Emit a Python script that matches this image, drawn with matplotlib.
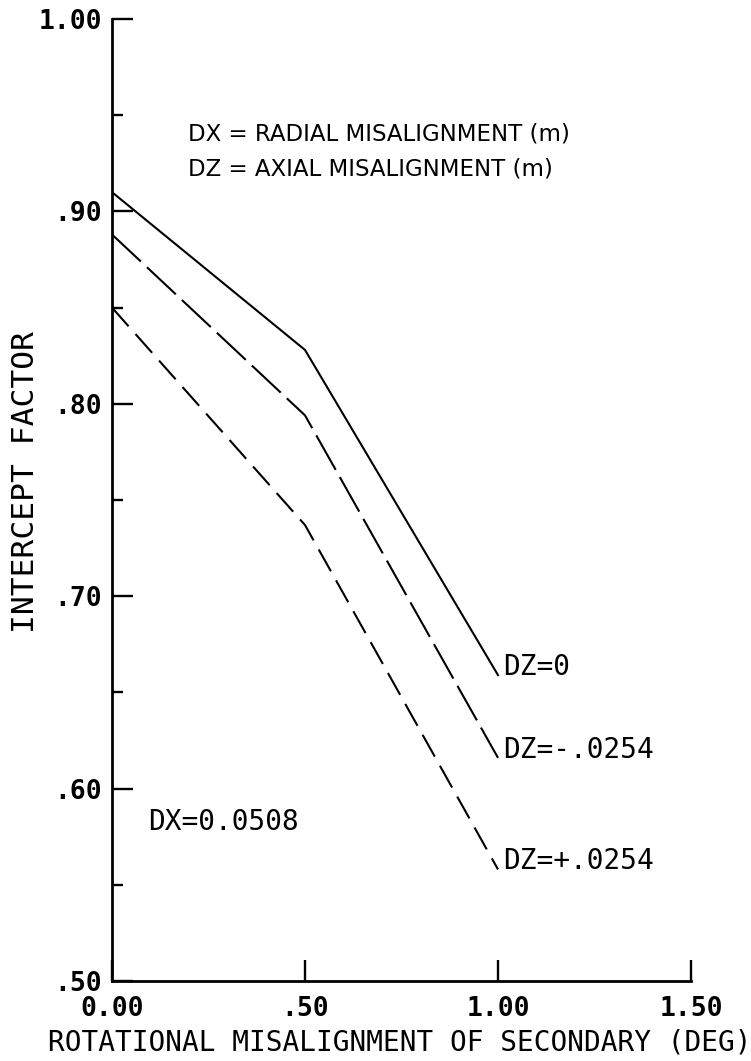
import matplotlib
matplotlib.use("Agg")
import matplotlib.pyplot as plt
from matplotlib.ticker import FixedLocator, FixedFormatter

# Rotational misalignment of the secondary (deg)
rotation_deg = [0.0, 0.5, 1.0]

# Intercept factor for each axial misalignment, DX = 0.0508 m
dz_zero = [0.910, 0.828, 0.659]
dz_minus = [0.888, 0.794, 0.616]
dz_plus = [0.850, 0.737, 0.558]

series_labels = ["DZ=0", "DZ=-.0254", "DZ=+.0254"]

x_ticks = [0.0, 0.5, 1.0, 1.5]
x_tick_labels = ["0.00", ".50", "1.00", "1.50"]
y_ticks = [0.5, 0.6, 0.7, 0.8, 0.9, 1.0]
y_tick_labels = [".50", ".60", ".70", ".80", ".90", "1.00"]
y_minor_ticks = [0.55, 0.65, 0.75, 0.85, 0.95]

MONO = "DejaVu Sans Mono"
SANS = "DejaVu Sans"

fig = plt.figure(figsize=(7.51, 10.61), dpi=100)
W, H = 751, 1061
ax = fig.add_axes([112 / W, 80 / H, 579 / W, 962 / H])

ax.set_xlim(0, 1.5)
ax.set_ylim(0.5, 1.0)

for side in ("top", "right"):
    ax.spines[side].set_visible(False)
for side in ("left", "bottom"):
    ax.spines[side].set_linewidth(2.0)

ax.xaxis.set_major_locator(FixedLocator(x_ticks))
ax.xaxis.set_major_formatter(FixedFormatter(x_tick_labels))
ax.yaxis.set_major_locator(FixedLocator(y_ticks))
ax.yaxis.set_major_formatter(FixedFormatter(y_tick_labels))
ax.yaxis.set_minor_locator(FixedLocator(y_minor_ticks))
ax.xaxis.set_minor_locator(FixedLocator([]))

ax.tick_params(which="major", direction="in", length=15, width=1.7)
ax.tick_params(axis="y", which="major", pad=7)
ax.tick_params(axis="x", which="major", pad=11)
ax.tick_params(which="minor", direction="in", length=8, width=1.7)
for lab in ax.get_xticklabels() + ax.get_yticklabels():
    lab.set_fontfamily(MONO)
    lab.set_fontweight("bold")
    lab.set_fontsize(19)

line_kw = dict(color="black", linewidth=1.5)
l0, = ax.plot(rotation_deg, dz_zero, **line_kw)
l1, = ax.plot(rotation_deg, dz_minus, **line_kw)
l1.set_dashes([19, 4])
l2, = ax.plot(rotation_deg, dz_plus, **line_kw)
l2.set_dashes([12, 5])

# Series names at the right-hand end of each curve
for ys, name in zip([dz_zero, dz_minus, dz_plus], series_labels):
    ax.annotate(name, xy=(rotation_deg[-1], ys[-1]), xytext=(4, 0),
                textcoords="offset points", ha="left", va="baseline",
                fontfamily=MONO, fontsize=20)

ax.text(0.093, 0.5785, "DX=0.0508", ha="left", va="baseline",
        fontfamily=MONO, fontsize=20)

ax.text(0.197, 0.9371, "DX = RADIAL MISALIGNMENT (m)", ha="left",
        va="baseline", fontfamily=SANS, fontsize=16.5)
ax.text(0.197, 0.9189, "DZ = AXIAL MISALIGNMENT (m)", ha="left",
        va="baseline", fontfamily=SANS, fontsize=16.5)

fig.text(26 / W, 1 - 482 / H, "INTERCEPT FACTOR", rotation=90,
         ha="center", va="center", fontfamily=MONO, fontsize=22.5)
fig.text(400 / W, 1 - 1043 / H, "ROTATIONAL MISALIGNMENT OF SECONDARY (DEG)",
         ha="center", va="center", fontfamily=MONO, fontsize=20)

fig.savefig("out.png", dpi=100)
